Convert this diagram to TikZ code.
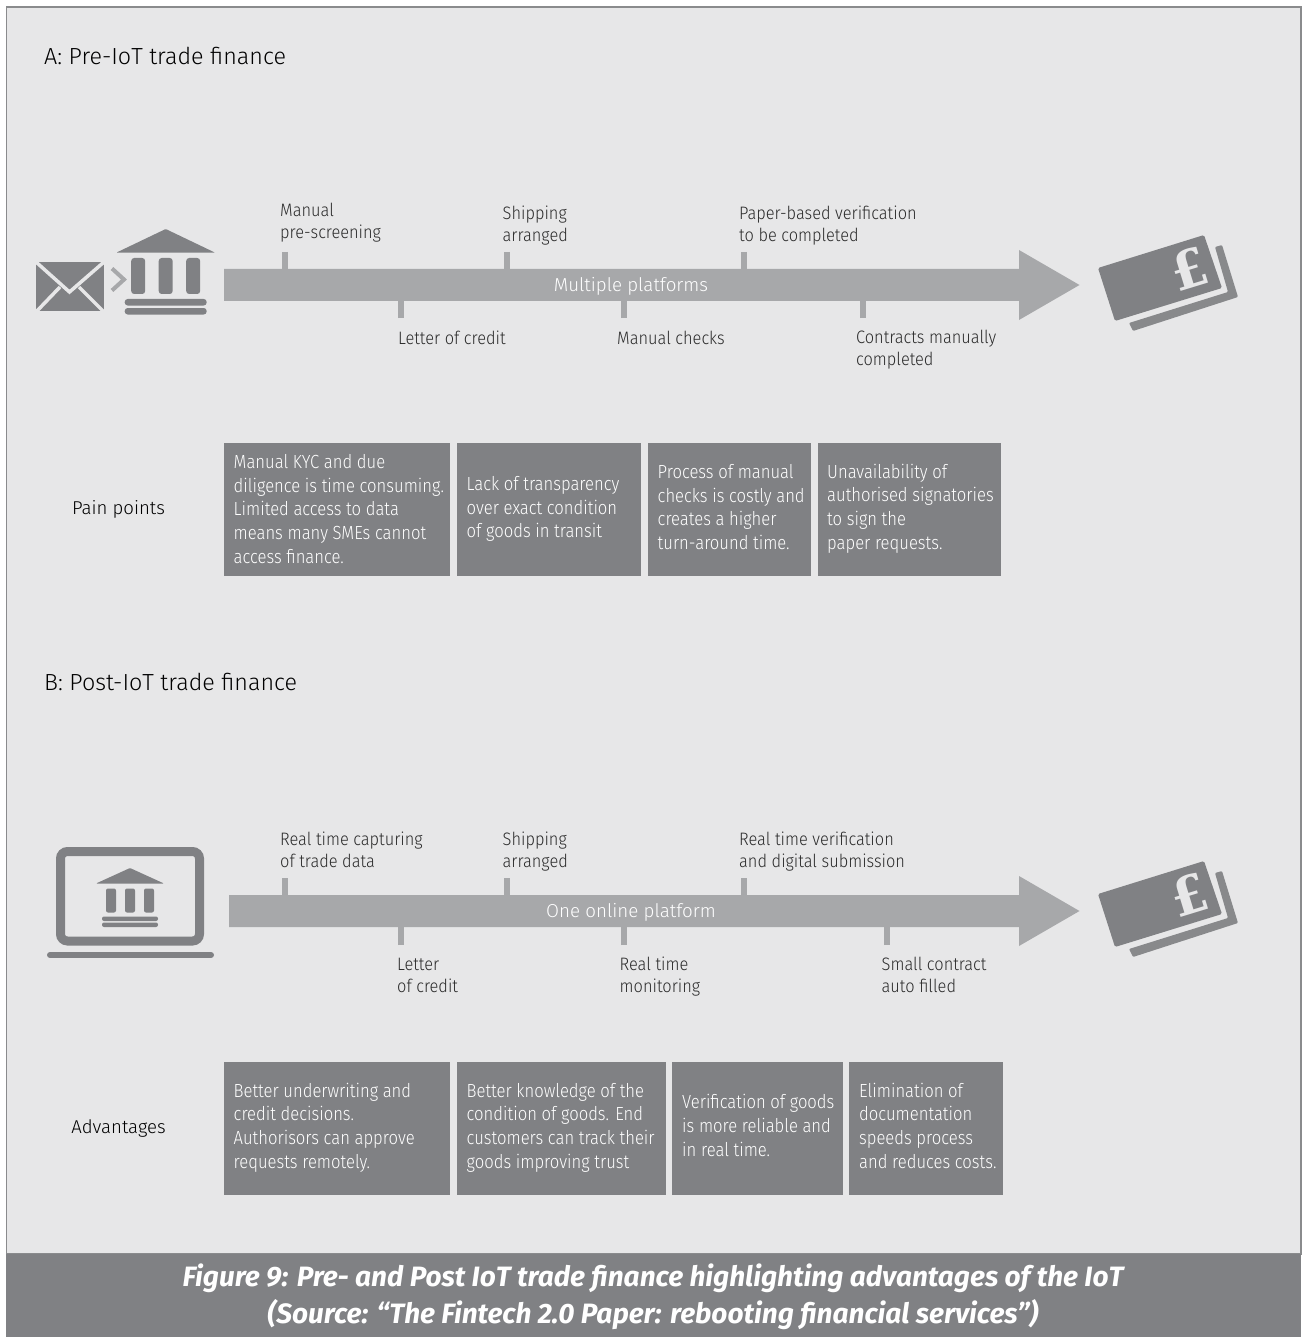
\documentclass[tikz,border=0pt]{standalone}
\usepackage{fontspec}
\setmainfont{Fira Sans}[UprightFont=* Light,ItalicFont=* Light Italic,BoldFont=*,BoldItalicFont=* Bold Italic]
\newfontfamily\narrowf{Fira Sans Light}[FakeStretch=0.91]
\newfontfamily\narrowg{Fira Sans Light}[FakeStretch=0.875]
\newfontfamily\capf{Fira Sans Bold Italic}
\newfontfamily\poundf{DejaVu Serif Bold}
\definecolor{panelbg}{HTML}{E7E7E8}
\definecolor{panelline}{HTML}{8A8B8D}
\definecolor{dgrey}{HTML}{808184}
\definecolor{arrowgrey}{HTML}{A7A8AA}
\definecolor{txt}{HTML}{2B2B2B}
\tikzset{
  x=1pt,y=-1pt,
  title/.style={anchor=west,inner sep=0pt,font=\fontsize{23.3}{28}\selectfont,text=black},
  lab/.style={anchor=west,inner sep=0pt,align=left,text=txt,font=\narrowf\fontsize{18}{22}\selectfont},
  sidelab/.style={anchor=center,inner sep=0pt,text=black,font=\fontsize{18.6}{23}\selectfont},
  boxtxt/.style={anchor=west,inner sep=0pt,align=left,text=white,font=\narrowg\fontsize{19}{23.7}\selectfont},
  arrowlab/.style={anchor=center,inner sep=0pt,text=white,font=\fontsize{18.75}{23}\selectfont},
  tick/.style={draw=arrowgrey,line width=6pt},
  icon/.style={fill=dgrey,draw=none},
  ink/.style={draw=dgrey,line cap=round},
  cut/.style={draw=panelbg,line width=3.5pt},
  greybox/.style={fill=dgrey,draw=none},
  bigarrow/.style={fill=arrowgrey,draw=none},
  bank/.pic={
    \fill[icon,rounded corners=1pt] (-49.5,11.7) -- (0,-12) -- (49.5,11.7) -- cycle;
    \foreach \cx in {-27.5,0,27.5}{\fill[icon,rounded corners=3pt] (\cx-7,17) rectangle (\cx+7,53);}
    \fill[icon,rounded corners=3pt] (-41,58) rectangle (41,64.5);
    \fill[icon,rounded corners=3pt] (-41,67) rectangle (41,73.5);
  },
  smallbank/.pic={
    \fill[icon,rounded corners=1pt] (-34,8) -- (0,-7.5) -- (34,8) -- cycle;
    \foreach \cx in {-19,0,19}{\fill[icon,rounded corners=2pt] (\cx-5,13) rectangle (\cx+5,37);}
    \fill[icon,rounded corners=2pt] (-28,41) rectangle (28,45.5);
    \fill[icon,rounded corners=2pt] (-28,47) rectangle (28,51.5);
  },
  money/.pic={
    \fill[icon,rounded corners=1.5pt] (1098,268) -- (1204,235) -- (1222,288) -- (1115,321) -- cycle;
    \fill[icon,opacity=.92,rounded corners=1pt] (1215,247) -- (1222,245) -- (1238,297) -- (1133,331) -- (1129,323) -- (1228,292) -- cycle;
    \node[inner sep=0pt,text=panelbg,rotate=17,font=\poundf\fontsize{52}{52}\selectfont] at (1189,269) {£};
  }
}
\begin{document}
\begin{tikzpicture}
\useasboundingbox (0,0) rectangle (1301,1337);
\fill[white] (0,0) rectangle (1301,1337);
\draw[fill=panelbg,draw=panelline,line width=1.3pt] (6.5,7) rectangle (1301,1254);
\fill[dgrey] (6,1254) rectangle (1301,1337);

\node[title] (titleA) at (44,56) {A: Pre-IoT trade finance};
\node[title] (titleB) at (44,682) {B: Post-IoT trade finance};

% icons A
\fill[icon] (36,262) rectangle (104,311);
\coordinate (envL) at (36,262); \coordinate (envM) at (69.5,292); \coordinate (envR) at (104,262);
\coordinate (envBL) at (36,312); \coordinate (envA) at (60,287); \coordinate (envBR) at (104,312); \coordinate (envB) at (79,287);
\draw[cut] (envL) -- (envM) -- (envR);
\draw[cut] (envBL) -- (envA);
\draw[cut] (envBR) -- (envB);
\coordinate (chA) at (112,268.5); \coordinate (chB) at (124,279.5); \coordinate (chC) at (112,290.5);
\draw[draw=arrowgrey,line width=4pt] (chA) -- (chB) -- (chC);
\pic at (165.7,241) {bank};

% arrow A
\coordinate (tA1) at (284.5,252); \coordinate (tA1e) at (284.5,270);
\coordinate (tA2) at (507,252);   \coordinate (tA2e) at (507,270);
\coordinate (tA3) at (743.5,252); \coordinate (tA3e) at (743.5,270);
\coordinate (tA4) at (401,318);   \coordinate (tA4e) at (401,300);
\coordinate (tA5) at (624,318);   \coordinate (tA5e) at (624,300);
\coordinate (tA6) at (862.5,318); \coordinate (tA6e) at (862.5,300);
\foreach \n in {1,...,6}{\draw[tick] (tA\n) -- (tA\n e);}
\fill[bigarrow] (224,269) -- (1019,269) -- (1019,250) -- (1079.5,285) -- (1019,320) -- (1019,301) -- (224,301) -- cycle;
\node[arrowlab] (arrA) at (631,286) {Multiple platforms};
\node[lab] (lA1) at (280,222.5) {Manual\\pre-screening};
\node[lab] (lA2) at (502.5,226) {Shipping\\arranged};
\node[lab] (lA3) at (739,225.5) {Paper-based verification\\to be completed};
\node[lab] (lA4) at (398,337.5) {Letter of credit};
\node[lab] (lA5) at (617,337.5) {Manual checks};
\node[lab] (lA6) at (856,350) {Contracts manually\\completed};
\pic at (0,0) {money};

% pain points
\node[sidelab] (pain) at (118.5,509.5) {Pain points};
\fill[greybox] (224,443) rectangle (450,576);
\fill[greybox] (457,443) rectangle (641,576);
\fill[greybox] (648,443) rectangle (811,576);
\fill[greybox] (818,443) rectangle (1001,576);
\node[boxtxt] (pA1) at (233.5,509) {Manual KYC and due\\diligence is time consuming.\\Limited access to data\\means many SMEs cannot\\access finance.};
\node[boxtxt] (pA2) at (466.5,509) {Lack of transparency\\over exact condition\\of goods in transit};
\node[boxtxt] (pA3) at (657.5,507) {Process of manual\\checks is costly and\\creates a higher\\turn-around time.};
\node[boxtxt] (pA4) at (827,508.5) {Unavailability of\\authorised signatories\\to sign the\\paper requests.};

% icons B
\draw[draw=dgrey,line width=9pt,rounded corners=7pt] (60.5,851.5) rectangle (199.5,941);
\draw[ink,line width=6pt] (50,955) coordinate (lapL) -- (211,955) coordinate (lapR);
\pic at (130,875.5) {smallbank};

% arrow B
\coordinate (tB1) at (284.5,878); \coordinate (tB1e) at (284.5,896);
\coordinate (tB2) at (507,878);   \coordinate (tB2e) at (507,896);
\coordinate (tB3) at (743.5,878); \coordinate (tB3e) at (743.5,896);
\coordinate (tB4) at (401,945);   \coordinate (tB4e) at (401,926);
\coordinate (tB5) at (624,945);   \coordinate (tB5e) at (624,926);
\coordinate (tB6) at (887,945);   \coordinate (tB6e) at (887,926);
\foreach \n in {1,...,6}{\draw[tick] (tB\n) -- (tB\n e);}
\fill[bigarrow] (229,895) -- (1019,895) -- (1019,876) -- (1079.5,911) -- (1019,946) -- (1019,927) -- (229,927) -- cycle;
\node[arrowlab] (arrB) at (631,912) {One online platform};
\node[lab] (lB1) at (280,850) {Real time capturing\\of trade data};
\node[lab] (lB2) at (502.5,852) {Shipping\\arranged};
\node[lab] (lB3) at (739,852) {Real time verification\\and digital submission};
\node[lab] (lB4) at (397,975) {Letter\\of credit};
\node[lab] (lB5) at (619.5,977) {Real time\\monitoring};
\node[lab] (lB6) at (881.5,975) {Small contract\\auto filled};
\pic at (0,626) {money};

% advantages
\node[sidelab] (adv) at (118.5,1128.5) {Advantages};
\fill[greybox] (224,1062) rectangle (450,1195);
\fill[greybox] (457,1062) rectangle (666,1195);
\fill[greybox] (672,1062) rectangle (843,1195);
\fill[greybox] (849,1062) rectangle (1003,1195);
\node[boxtxt] (pB1) at (233.5,1127.5) {Better underwriting and\\credit decisions.\\Authorisors can approve\\requests remotely.};
\node[boxtxt] (pB2) at (466.5,1127.5) {Better knowledge of the\\condition of goods. End\\customers can track their\\goods improving trust};
\node[boxtxt] (pB3) at (682,1125.5) {Verification of goods\\is more reliable and\\in real time.};
\node[boxtxt] (pB4) at (859,1125.5) {Elimination of\\documentation\\speeds process\\and reduces costs.};

% caption
\node[inner sep=0pt,align=center,text=white,font=\capf\fontsize{28}{37}\selectfont] (cap) at (653,1297)
 {Figure 9: Pre- and Post IoT trade finance highlighting advantages of the IoT\\(Source: “The Fintech 2.0 Paper: rebooting financial services”)};
\end{tikzpicture}
\end{document}
